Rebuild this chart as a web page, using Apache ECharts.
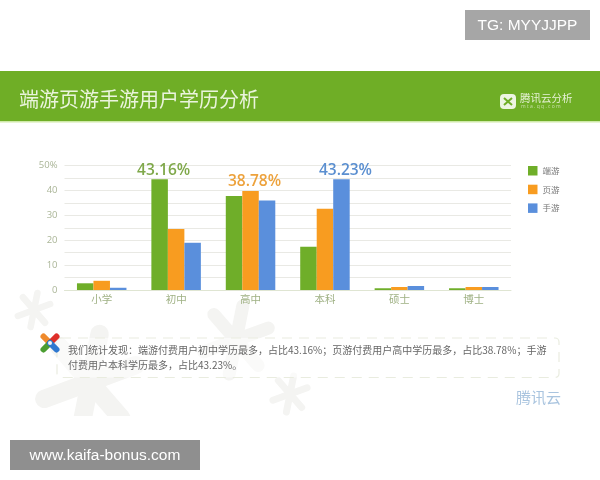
<!DOCTYPE html>
<html>
<head>
<meta charset="utf-8">
<style>
  html, body { margin: 0; padding: 0; background: #fff; }
  #main { width: 600px; height: 480px; }
</style>
<script src="https://cdn.jsdelivr.net/npm/echarts@6/dist/echarts.min.js"></script>
</head>
<body>
<div id="main"></div>
<script>
const categories = ['小学', '初中', '高中', '本科', '硕士', '博士']
const duanyou = [2.7, 44.5, 37.8, 17.4, 0.7, 0.7]
const yeyou = [3.7, 24.5, 39.8, 32.7, 1.2, 1.2]
const shouyou = [0.9, 19, 36, 44.5, 1.6, 1.2]
const yTicks = { 0: '0', 10: '10', 20: '20', 30: '30', 40: '40', 50: '50%' }
// 标注: 每个系列只在最高的类目上显示
const peakLabels = [
  { name: '端游', category: '初中', text: '43.16%', color: '#7fa84a' },
  { name: '页游', category: '高中', text: '38.78%', color: '#eda23c' },
  { name: '手游', category: '本科', text: '43.23%', color: '#5b8fd0' }
]
const summary = [
  '我们统计发现：端游付费用户初中学历最多，占比43.16%；页游付费用户高中学历最多，占比38.78%；手游',
  '付费用户本科学历最多，占比43.23%。'
]

const cjk = '"Noto Sans CJK SC", sans-serif'

const makeSeries = (name, data, color) => {
  const peak = peakLabels.find(p => p.name === name)
  return {
    name,
    type: 'bar',
    data,
    barWidth: 16.5,
    barGap: 0,
    itemStyle: { color },
    label: {
      show: true,
      position: 'top',
      distance: 1,
      offset: [4, 0],
      fontFamily: '"Open Sans", sans-serif',
      fontWeight: 600,
      fontSize: 15.5,
      color: peak.color,
      formatter: p => (p.name === peak.category ? peak.text : '')
    }
  }
}

// 背景水印
const flake = (cx, cy, r) => {
  const arms = [[0.2, -1], [-0.2, 1], [0.95, -0.35], [-0.95, 0.35], [0.65, 0.75], [-0.65, -0.75]]
  return arms.map(a => ({
    type: 'line',
    z: -10,
    shape: { x1: cx, y1: cy, x2: cx + a[0] * r, y2: cy + a[1] * r },
    style: { stroke: '#f4f4f2', lineWidth: r / 2.6, lineCap: 'round' }
  }))
}

// logo 的四个花瓣
const petal = (cx, cy, dx, dy, color) => ({
  type: 'line',
  z: 2,
  shape: { x1: cx, y1: cy, x2: cx + dx, y2: cy + dy },
  style: { stroke: color, lineWidth: 6, lineCap: 'round' }
})

const myChart = echarts.init(document.getElementById('main'))
const option = {
  backgroundColor: '#ffffff',
  animation: false,
  grid: { left: 64.5, right: 89, top: 165.7, bottom: 190 },
  legend: {
    orient: 'vertical',
    left: 528,
    top: 166,
    padding: 0,
    itemWidth: 9.5,
    itemHeight: 9.5,
    itemGap: 9.2,
    icon: 'rect',
    textStyle: { fontFamily: cjk, fontSize: 8.5, lineHeight: 9.5, color: '#777' }
  },
  xAxis: {
    type: 'category',
    data: categories,
    axisTick: { show: false },
    axisLine: { lineStyle: { color: '#dfe5d2' } },
    axisLabel: { fontFamily: cjk, fontSize: 10.5, color: '#9fb184', margin: 4 }
  },
  yAxis: {
    type: 'value',
    min: 0,
    max: 50,
    interval: 5,
    axisLine: { show: false },
    axisTick: { show: false },
    splitLine: { lineStyle: { color: '#e9e9e4' } },
    axisLabel: {
      fontFamily: '"Open Sans", sans-serif',
      fontSize: 9.5,
      color: '#aab597',
      margin: 7,
      formatter: v => yTicks[v] || ''
    }
  },
  series: [
    makeSeries('端游', duanyou, '#6fae29'),
    makeSeries('页游', yeyou, '#f89c20'),
    makeSeries('手游', shouyou, '#5a8fdc')
  ],
  graphic: [
    ...flake(90, 382, 48),
    ...flake(236, 340, 34),
    ...flake(290, 394, 18),
    ...flake(34, 310, 17),
    // 水印下缘被裁掉
    { type: 'rect', z: -9, shape: { x: 0, y: 416, width: 600, height: 64 }, style: { fill: '#ffffff' } },
    // 顶部绿色标题栏
    { type: 'rect', z: 1, shape: { x: 0, y: 71, width: 600, height: 50 }, style: { fill: '#6fae26' } },
    { type: 'rect', z: 1, shape: { x: 0, y: 121, width: 600, height: 1.5 }, style: { fill: '#cfe9a8' } },
    { type: 'text', z: 2, style: { x: 19, y: 99.5, text: '端游页游手游用户学历分析', fill: '#eaf4dc', font: '20px ' + cjk, textVerticalAlign: 'middle' } },
    // 腾讯云分析 logo
    { type: 'rect', z: 2, shape: { x: 500, y: 94, width: 16, height: 15, r: 4 }, style: { fill: '#edf5e2' } },
    { type: 'line', z: 3, shape: { x1: 504, y1: 98, x2: 512, y2: 105 }, style: { stroke: '#6fae26', lineWidth: 2 } },
    { type: 'line', z: 3, shape: { x1: 512, y1: 98, x2: 504, y2: 105 }, style: { stroke: '#6fae26', lineWidth: 2 } },
    { type: 'text', z: 2, style: { x: 520, y: 98, text: '腾讯云分析', fill: '#e6f1d6', font: '10.5px ' + cjk, textVerticalAlign: 'middle' } },
    { type: 'text', z: 2, style: { x: 521, y: 107, text: 'm t a . q q . c o m', fill: '#c8e0a8', font: '5px "Open Sans"', textVerticalAlign: 'middle' } },
    // 说明框
    { type: 'rect', z: 1, shape: { x: 57, y: 338, width: 502, height: 39.5, r: 4 }, style: { fill: 'rgba(255,255,255,0.55)', stroke: '#e9ecdf', lineWidth: 1.2, lineDash: [10, 7] } },
    { type: 'text', z: 2, style: { x: 68, y: 350, text: summary[0], fill: '#666', font: '10px ' + cjk, textVerticalAlign: 'middle' } },
    { type: 'text', z: 2, style: { x: 68, y: 365.7, text: summary[1], fill: '#666', font: '10px ' + cjk, textVerticalAlign: 'middle' } },
    // 彩色 logo
    petal(50, 343, -6.5, -6.5, '#ef8a2c'),
    petal(50, 343, 6.5, -6.5, '#de2f2a'),
    petal(50, 343, -6.5, 6.5, '#4b9e32'),
    petal(50, 343, 6.5, 6.5, '#2f78d0'),
    { type: 'circle', z: 3, shape: { cx: 50, cy: 343, r: 2 }, style: { fill: '#f4f4f4' } },
    // 腾讯云
    { type: 'text', z: 2, style: { x: 516, y: 397, text: '腾讯云', fill: '#a9c4df', font: '15px ' + cjk, textVerticalAlign: 'middle' } },
    // 水印标签
    { type: 'rect', z: 5, shape: { x: 465, y: 10, width: 125, height: 30 }, style: { fill: '#a6a6a6' } },
    { type: 'text', z: 6, style: { x: 527.5, y: 25.5, text: 'TG: MYYJJPP', fill: '#fff', font: '15.5px "Liberation Sans"', textAlign: 'center', textVerticalAlign: 'middle' } },
    { type: 'rect', z: 5, shape: { x: 10, y: 440, width: 190, height: 30 }, style: { fill: '#8f8f8f' } },
    { type: 'text', z: 6, style: { x: 105, y: 455.5, text: 'www.kaifa-bonus.com', fill: '#fff', font: '15.5px "Liberation Sans"', textAlign: 'center', textVerticalAlign: 'middle' } }
  ]
}
myChart.setOption(option)
</script>
</body>
</html>
